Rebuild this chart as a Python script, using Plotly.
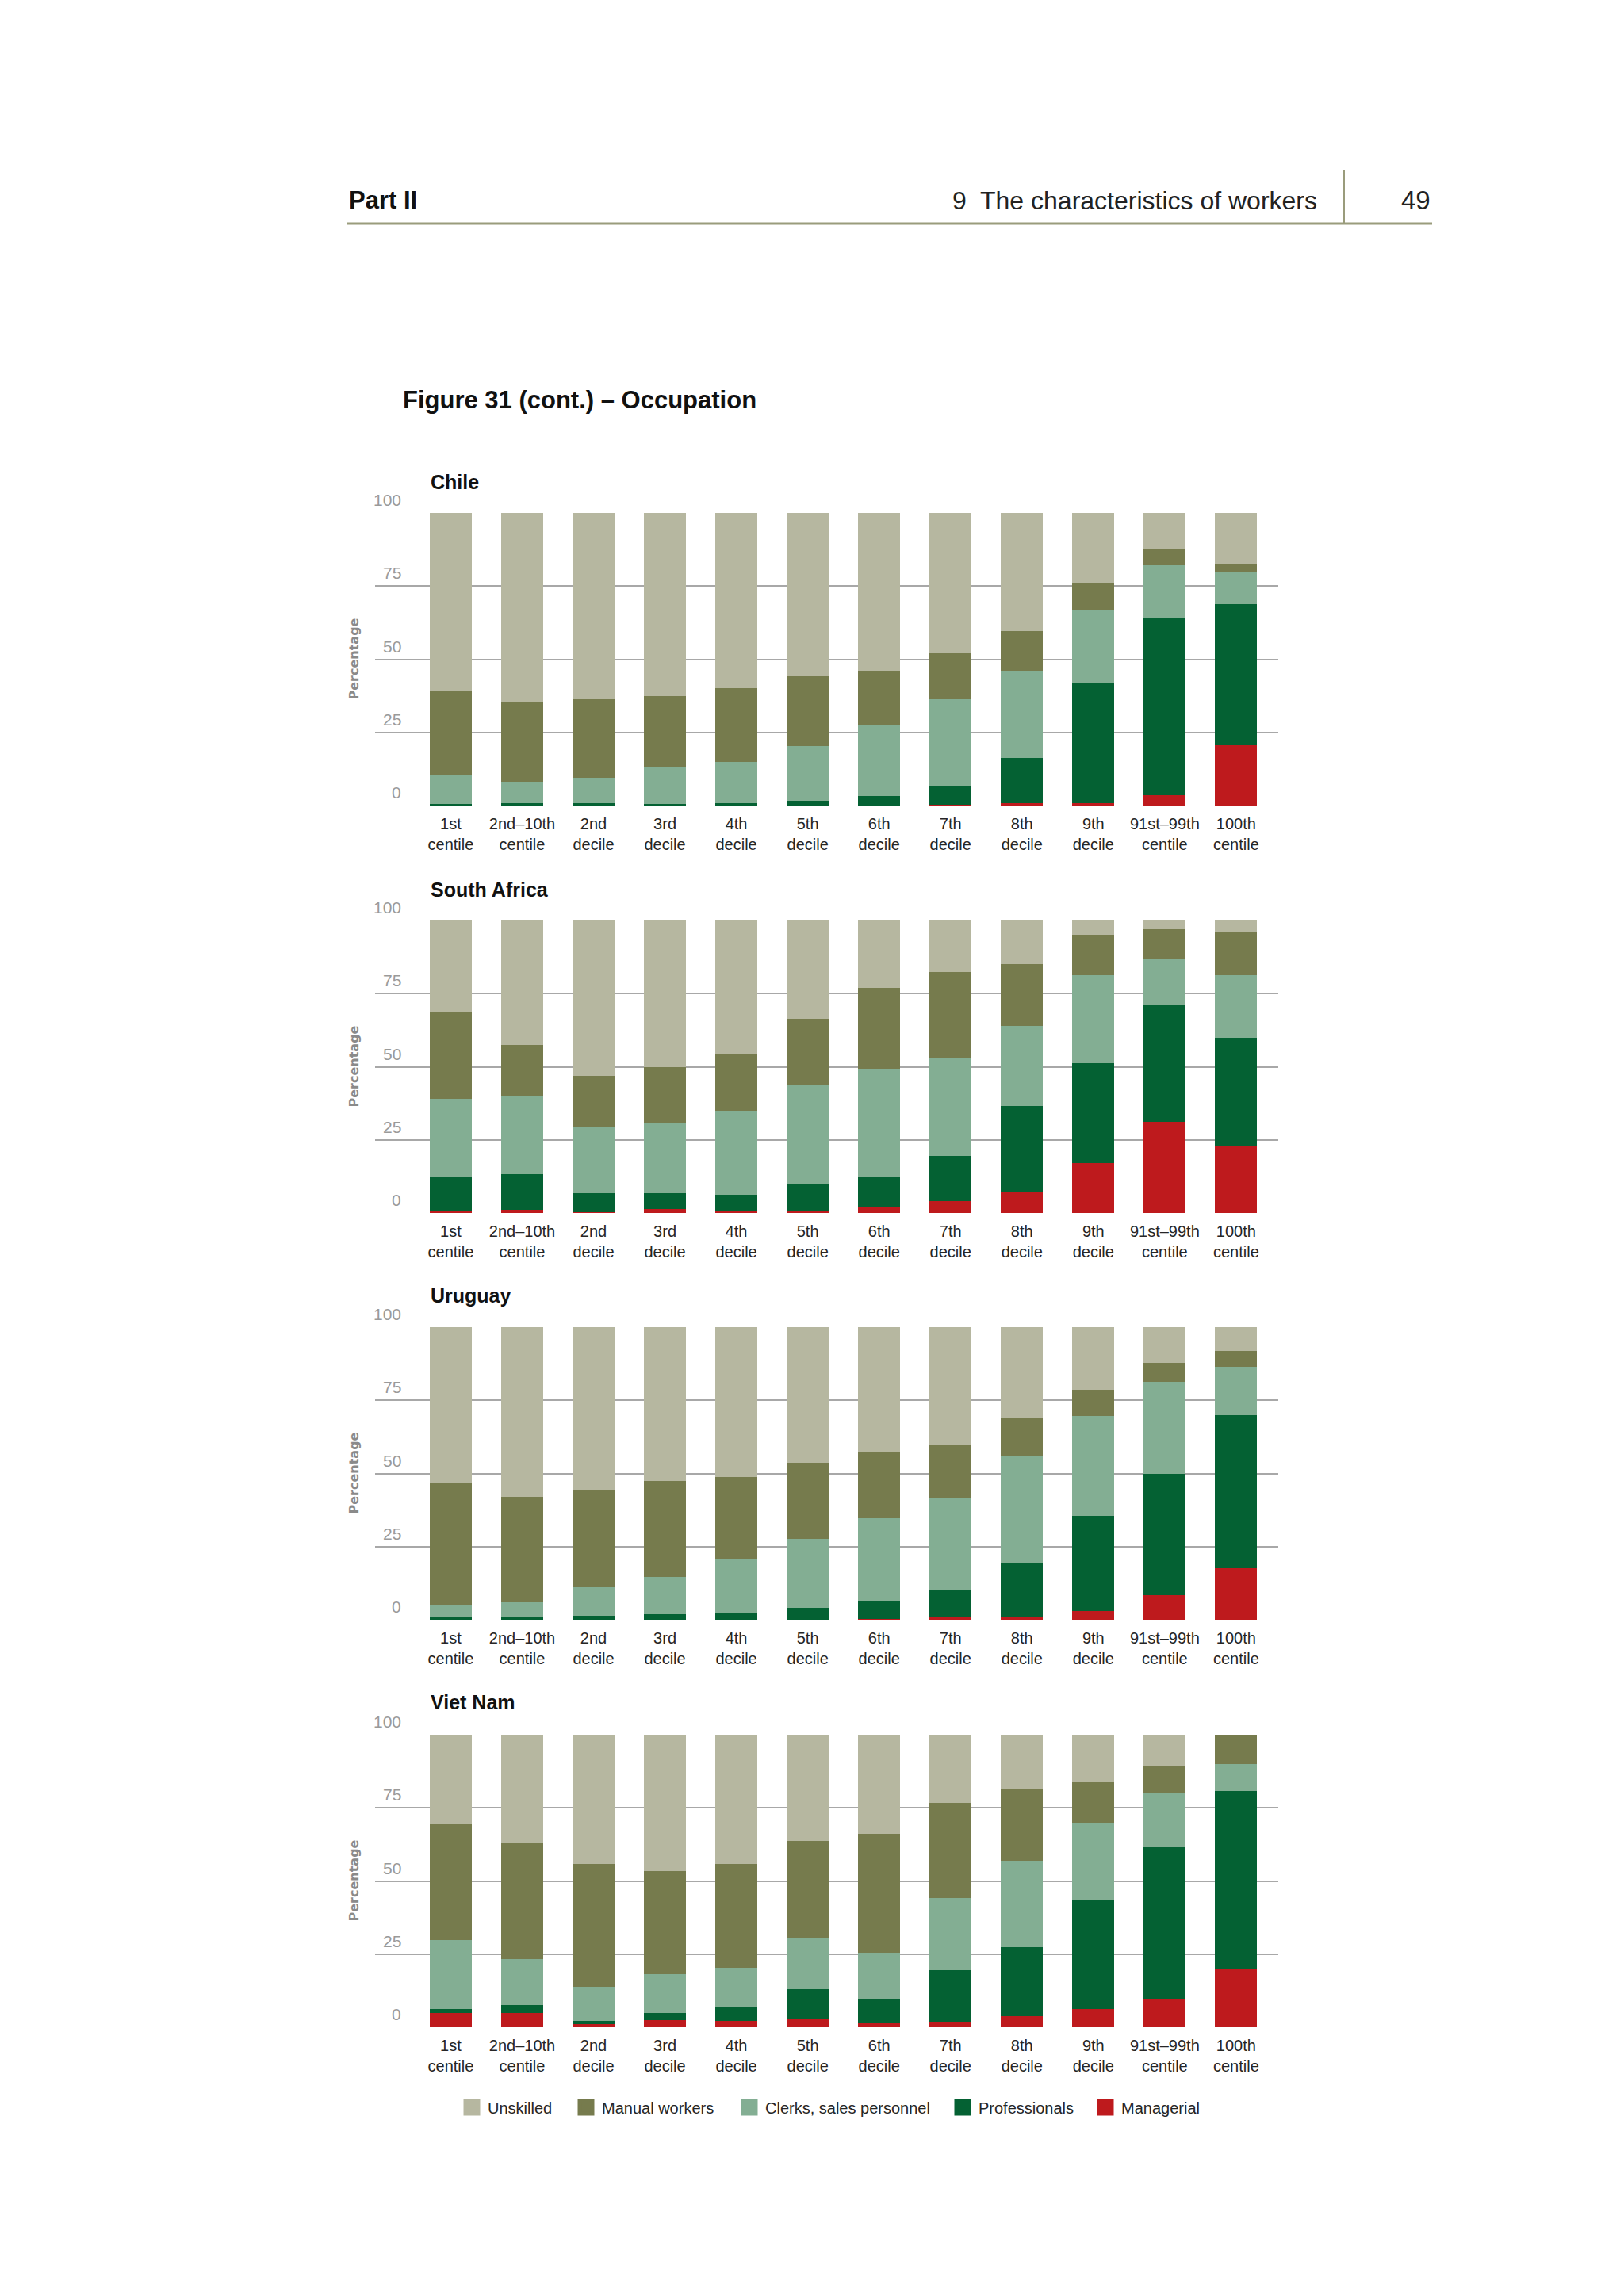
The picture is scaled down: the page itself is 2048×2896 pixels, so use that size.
import plotly.graph_objects as go

# ---- data ----
categories = ["1st<br>centile", "2nd–10th<br>centile", "2nd<br>decile", "3rd<br>decile",
              "4th<br>decile", "5th<br>decile", "6th<br>decile", "7th<br>decile",
              "8th<br>decile", "9th<br>decile", "91st–99th<br>centile", "100th<br>centile"]
y_ticks = [0, 25, 50, 75, 100]
countries = ["Chile", "South Africa", "Uruguay", "Viet Nam"]
occupations = ["Managerial", "Professionals", "Clerks, sales personnel", "Manual workers", "Unskilled"]

chile_managerial = [0.0, 0.0, 0.0, 0.0, 0.0, 0.0, 0.0, 0.2, 0.7, 0.9, 3.5, 20.7]
chile_professionals = [0.5, 0.9, 0.7, 0.5, 0.9, 1.6, 3.3, 6.4, 15.6, 41.2, 60.6, 48.2]
chile_clerks = [9.9, 7.2, 8.8, 12.8, 13.9, 18.6, 24.4, 29.8, 29.9, 24.5, 18.1, 10.7]
chile_manual = [29.0, 27.2, 26.8, 24.1, 25.4, 23.9, 18.4, 15.5, 13.3, 9.5, 5.3, 3.0]
chile_unskilled = [60.6, 64.7, 63.7, 62.6, 59.8, 55.9, 53.9, 48.1, 40.5, 23.9, 12.5, 17.4]

safrica_managerial = [0.5, 1.1, 0.3, 1.4, 0.9, 0.5, 1.9, 4.2, 7.1, 17.2, 31.2, 23.0]
safrica_professionals = [11.9, 12.3, 6.6, 5.4, 5.4, 9.4, 10.4, 15.4, 29.4, 34.1, 40.1, 36.8]
safrica_clerks = [26.6, 26.4, 22.5, 24.2, 28.7, 34.0, 37.1, 33.2, 27.4, 29.9, 15.5, 21.4]
safrica_manual = [29.9, 17.6, 17.4, 18.9, 19.5, 22.5, 27.5, 29.5, 21.1, 13.8, 10.1, 15.0]
safrica_unskilled = [31.1, 42.6, 53.2, 50.1, 45.5, 33.6, 23.1, 17.7, 15.0, 5.0, 3.1, 3.8]

uruguay_managerial = [0.0, 0.0, 0.0, 0.0, 0.0, 0.0, 0.4, 1.1, 1.1, 2.9, 8.3, 17.7]
uruguay_professionals = [0.8, 1.1, 1.3, 1.8, 2.3, 4.0, 5.8, 9.3, 18.5, 32.7, 41.7, 52.1]
uruguay_clerks = [4.1, 4.9, 9.7, 12.7, 18.6, 23.7, 28.6, 31.3, 36.4, 34.1, 31.2, 16.7]
uruguay_manual = [41.8, 36.0, 33.1, 32.9, 27.8, 25.9, 22.5, 18.0, 13.2, 8.9, 6.7, 5.4]
uruguay_unskilled = [53.3, 58.0, 55.9, 52.6, 51.3, 46.4, 42.7, 40.3, 30.8, 21.4, 12.1, 8.1]

vietnam_managerial = [4.8, 4.8, 1.0, 2.4, 2.2, 2.9, 1.3, 1.6, 3.7, 6.3, 9.6, 20.1]
vietnam_professionals = [1.3, 2.7, 1.1, 2.4, 4.9, 10.2, 8.2, 18.0, 23.8, 37.4, 51.9, 60.7]
vietnam_clerks = [23.6, 15.7, 11.6, 13.4, 13.2, 17.6, 16.0, 24.7, 29.3, 26.2, 18.5, 9.3]
vietnam_manual = [39.8, 39.9, 42.2, 35.2, 35.5, 32.9, 40.7, 32.3, 24.6, 13.9, 9.1, 9.9]
vietnam_unskilled = [30.5, 36.9, 44.1, 46.6, 44.2, 36.4, 33.8, 23.4, 18.6, 16.2, 10.9, 0.0]

panel_series = [
    [chile_managerial, chile_professionals, chile_clerks, chile_manual, chile_unskilled],
    [safrica_managerial, safrica_professionals, safrica_clerks, safrica_manual, safrica_unskilled],
    [uruguay_managerial, uruguay_professionals, uruguay_clerks, uruguay_manual, uruguay_unskilled],
    [vietnam_managerial, vietnam_professionals, vietnam_clerks, vietnam_manual, vietnam_unskilled],
]

# ---- styling ----
colors = ["#be1a1d", "#046133", "#83ae93", "#767b4d", "#b6b7a0"]
W, H = 2048, 2896
OFF = 8  # page body margin of the html output
SANS = "Liberation Sans, Arial, Roboto, sans-serif"
GRID = "#a8a8a8"


def px(x):
    return (x - OFF) / W


def py(y):
    return 1 - (y - OFF) / H


panel_top = [647, 1161, 1674, 2188]   # pixel y of the 100 gridline
title_y = [608, 1122, 1634, 2147]
panel_h = 369
x_left, x_right = 473, 1612
# left edge of each key legend box, in printed order (Managerial ... Unskilled)
legend_x = [1374, 1194, 925, 719, 575]

fig = go.Figure()
annotations = []
layout_axes = {}

for i, country in enumerate(countries):
    n = "" if i == 0 else str(i + 1)
    xa, ya = "x" + n, "y" + n
    for j, occ in enumerate(occupations):
        fig.add_trace(go.Bar(
            x=categories, y=panel_series[i][j], name=occ,
            marker=dict(color=colors[j], line=dict(width=0)),
            xaxis=xa, yaxis=ya, legendgroup=occ, showlegend=False,
            hovertemplate="%{y:.1f}%<extra>" + occ + "</extra>",
        ))
    top, bot = panel_top[i], panel_top[i] + panel_h
    layout_axes["xaxis" + n] = dict(
        domain=[px(x_left), px(x_right)], anchor=ya, type="category",
        range=[-1.06, 11.59], showgrid=False, zeroline=False, showline=False,
        ticks="", ticklabelstandoff=9,
        tickfont=dict(family=SANS, size=20, color="#262626"),
    )
    layout_axes["yaxis" + n] = dict(
        domain=[py(bot), py(top)], anchor=xa, range=[0, 100],
        tickvals=y_ticks, showticklabels=False, ticks="",
        showgrid=True, gridcolor=GRID, gridwidth=2, zeroline=False, showline=False,
    )
    annotations.append(dict(
        text="<b>" + country + "</b>", xref="paper", yref="paper",
        x=px(541), y=py(title_y[i]), xanchor="left", yanchor="middle", showarrow=False,
        font=dict(family=SANS, size=25, color="#111111"),
    ))
    for t in y_ticks:
        annotations.append(dict(
            text=str(t), xref="paper", yref=ya, x=px(508), y=t,
            xanchor="right", yanchor="bottom", yshift=3, showarrow=False,
            font=dict(family=SANS, size=21, color="#9a9a9a"),
        ))
    annotations.append(dict(
        text="<b>Percentage</b>", xref="paper", yref="paper",
        x=px(446), y=py(top + panel_h / 2), textangle=-90,
        xanchor="center", yanchor="middle", showarrow=False,
        font=dict(family="DejaVu Sans, sans-serif", size=16, color="#8a8a8a"),
    ))

# key: one legend per entry so each swatch sits where the printed key has it
legends = {}
for j, occ in enumerate(occupations):
    lname = "legend" if j == 0 else "legend" + str(j + 1)
    fig.add_trace(go.Scatter(
        x=[None], y=[None], mode="markers", name=occ,
        marker=dict(symbol="square", size=16, color=colors[j],
                    line=dict(color=colors[j], width=5)),
        legendgroup=occ, showlegend=True, hoverinfo="skip", legend=lname,
    ))
    legends[lname] = dict(
        orientation="h", x=px(legend_x[j]), y=py(2658), xanchor="left", yanchor="middle",
        font=dict(family=SANS, size=20, color="#262626"),
        bgcolor="rgba(0,0,0,0)", itemclick=False, itemdoubleclick=False,
    )

# page header and figure title
annotations += [
    dict(text="<b>Part II</b>", xref="paper", yref="paper", x=px(438), y=py(253),
         xanchor="left", yanchor="middle", showarrow=False,
         font=dict(family=SANS, size=31, color="#111111")),
    dict(text="9  The characteristics of workers", xref="paper", yref="paper",
         x=px(1663), y=py(253), xanchor="right", yanchor="middle", showarrow=False,
         font=dict(family=SANS, size=32, color="#222222")),
    dict(text="49", xref="paper", yref="paper", x=px(1806), y=py(253),
         xanchor="right", yanchor="middle", showarrow=False,
         font=dict(family=SANS, size=33, color="#222222")),
    dict(text="<b>Figure 31 (cont.) – Occupation</b>", xref="paper", yref="paper",
         x=px(506), y=py(505), xanchor="left", yanchor="middle", showarrow=False,
         font=dict(family=SANS, size=31, color="#111111")),
]

shapes = [
    dict(type="line", xref="paper", yref="paper", x0=px(438), x1=px(1806),
         y0=py(282), y1=py(282), line=dict(color="#9a9c7c", width=3)),
    dict(type="line", xref="paper", yref="paper", x0=px(1695), x1=px(1695),
         y0=py(214), y1=py(282), line=dict(color="#9a9c7c", width=2)),
]

fig.update_layout(
    width=W, height=H,
    margin=dict(l=0, r=0, t=0, b=0),
    paper_bgcolor="white", plot_bgcolor="white",
    barmode="stack", bargap=0.41,
    showlegend=True,
    annotations=annotations,
    shapes=shapes,
    **legends,
    **layout_axes,
)

fig.write_html("out.html")
